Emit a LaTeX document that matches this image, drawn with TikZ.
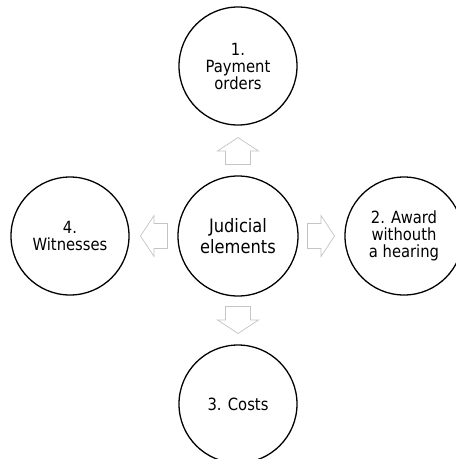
\documentclass[tikz,border=0pt]{standalone}
\usepackage{fontspec}
\setmainfont[FakeStretch=0.88]{DejaVu Sans}
\usetikzlibrary{calc}
\definecolor{arrowgray}{HTML}{C4C4C4}
\begin{document}
\begin{tikzpicture}[x=1pt,y=-1pt,
  topic/.style={circle,draw=black,line width=1.3pt,minimum size=118pt,inner sep=0pt,
    align=center,font=\fontsize{16.8}{17}\selectfont},
  hub/.style={topic,minimum size=120pt,font=\fontsize{18.5}{21}\selectfont},
  arrowline/.style={draw=arrowgray,fill=white,line width=0.7pt,line join=miter},
  blockarrow/.pic={
    % hollow block arrow pointing along +x, centred on the origin
    \path[arrowline] (-13.5,-12.5) -- (0,-12.5) -- (0,-20.5) -- (13.5,0)
      -- (0,20.5) -- (0,12.5) -- (-13.5,12.5) -- cycle;
  }]
\useasboundingbox (0,0) rectangle (456,459);
\clip (0,0) rectangle (456,459);
% circles
\node[hub]   (hub)   at (238,236) {Judicial\\elements};
\node[topic] (top)   at (238,66)  {1.\\Payment\\orders};
\node[topic] (right) at (404,236) {2. Award\\withouth\\a hearing};
\node[topic] (bot)   at (238,404) {3. Costs};
\node[topic] (left)  at (70,236)  {4.\\Witnesses};
% block arrows pointing outwards from the hub
\pic[rotate=90]  at ($(hub)!0.5!(top)$)   {blockarrow};
\pic[rotate=0]   at ($(hub)!0.5!(right)$) {blockarrow};
\pic[rotate=-90] at ($(hub)!0.5!(bot)$)   {blockarrow};
\pic[rotate=180] at ($(hub)!0.5!(left)$)  {blockarrow};
\end{tikzpicture}
\end{document}
